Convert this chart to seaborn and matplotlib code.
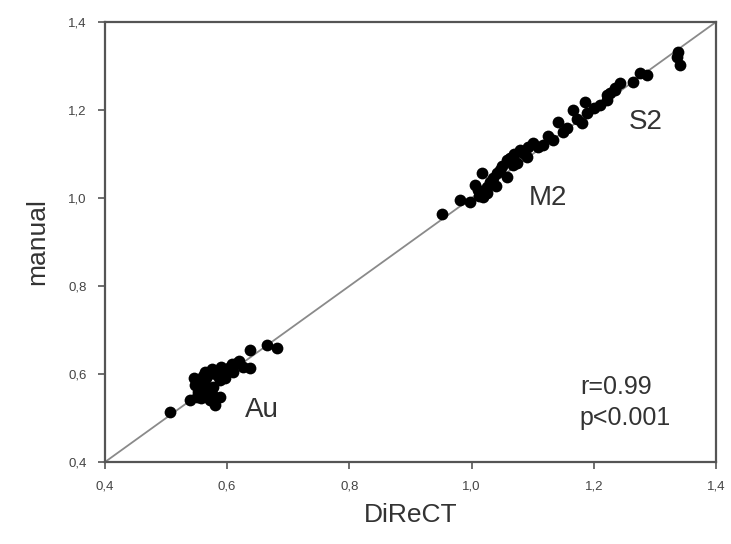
import matplotlib
matplotlib.use("Agg")
import matplotlib.pyplot as plt
import seaborn as sns
import pandas as pd

# --- data ---
au_x = [0.506, 0.539, 0.551, 0.555, 0.555, 0.560, 0.567, 0.567, 0.572, 0.577, 0.580,
        0.588, 0.593, 0.600, 0.605, 0.616, 0.626, 0.637, 0.637, 0.665, 0.681, 0.560,
        0.548, 0.562, 0.575, 0.585, 0.597, 0.610, 0.552, 0.558, 0.565, 0.570, 0.563,
        0.575, 0.582, 0.590, 0.557, 0.572, 0.588, 0.545, 0.620, 0.608]
au_y = [0.514, 0.541, 0.548, 0.570, 0.586, 0.595, 0.548, 0.602, 0.564, 0.570, 0.530,
        0.586, 0.602, 0.609, 0.616, 0.625, 0.616, 0.614, 0.655, 0.666, 0.659, 0.560,
        0.575, 0.580, 0.555, 0.595, 0.590, 0.605, 0.560, 0.578, 0.590, 0.600, 0.605,
        0.612, 0.600, 0.615, 0.545, 0.540, 0.548, 0.590, 0.630, 0.622]

m2_x = [0.952, 0.981, 0.997, 1.010, 1.017, 1.025, 1.030, 1.042, 1.046, 1.058, 1.063,
        1.074, 1.084, 1.092, 1.025, 1.019, 1.058, 1.079, 1.091, 1.100, 1.117, 1.133,
        1.005, 1.035, 1.050, 1.068, 1.040, 1.012, 1.070, 1.108, 1.125]
m2_y = [0.964, 0.995, 0.991, 1.018, 1.057, 1.025, 1.036, 1.057, 1.064, 1.048, 1.091,
        1.080, 1.102, 1.116, 1.011, 1.002, 1.086, 1.109, 1.093, 1.125, 1.120, 1.132,
        1.030, 1.045, 1.072, 1.075, 1.028, 1.005, 1.100, 1.115, 1.140]

s2_x = [1.141, 1.156, 1.166, 1.181, 1.186, 1.189, 1.210, 1.222, 1.227, 1.235, 1.222,
        1.235, 1.243, 1.264, 1.276, 1.287, 1.338, 1.341, 1.336, 1.150, 1.172, 1.200]
s2_y = [1.173, 1.159, 1.200, 1.170, 1.218, 1.193, 1.211, 1.223, 1.239, 1.245, 1.234,
        1.250, 1.261, 1.264, 1.284, 1.280, 1.332, 1.302, 1.320, 1.150, 1.180, 1.205]

group_labels = ["Au", "M2", "S2"]
label_pos_x = [0.657, 1.125, 1.285]
label_pos_y = [0.518, 1.000, 1.173]

ticks = [0.4, 0.6, 0.8, 1.0, 1.2, 1.4]
tick_labels = ["0,4", "0,6", "0,8", "1,0", "1,2", "1,4"]
stats_text = "r=0.99\np<0.001"

df = pd.DataFrame({
    "DiReCT": au_x + m2_x + s2_x,
    "manual": au_y + m2_y + s2_y,
})

sns.set_theme(style="white")
plt.rcParams["font.family"] = ["Liberation Sans", "DejaVu Sans"]

fig = plt.figure(figsize=(7.31, 5.44), dpi=100)
ax = fig.add_axes([0.1436, 0.1507, 0.8359, 0.8089])

ax.plot([0.4, 1.4], [0.4, 1.4], color="#8a8a8a", lw=1.3, zorder=1)
sns.scatterplot(data=df, x="DiReCT", y="manual", ax=ax, color="black",
                s=72, edgecolor="black", linewidth=0, zorder=3)

ax.set_xlim(0.4, 1.4)
ax.set_ylim(0.4, 1.4)
ax.set_xticks(ticks)
ax.set_xticklabels(tick_labels, fontsize=9.5, color="#444444")
ax.set_yticks(ticks)
ax.set_yticklabels(tick_labels, fontsize=9.5, color="#444444")
ax.tick_params(axis="both", direction="out", length=5, width=1.2, color="#555555",
               bottom=True, left=True, top=False, right=False, pad=8)

for sp in ax.spines.values():
    sp.set_color("#555555")
    sp.set_linewidth(1.6)

ax.set_xlabel("DiReCT", fontsize=19, color="#333333", labelpad=8)
ax.set_ylabel("manual", fontsize=19, color="#333333", labelpad=14)

for lab, lx, ly in zip(group_labels, label_pos_x, label_pos_y):
    ax.text(lx, ly, lab, fontsize=20, color="#333333", ha="center", va="center")

ax.text(1.177, 0.535, stats_text, fontsize=18, color="#333333", ha="left",
        va="center", linespacing=1.35)

fig.savefig("out.png", dpi=100)
